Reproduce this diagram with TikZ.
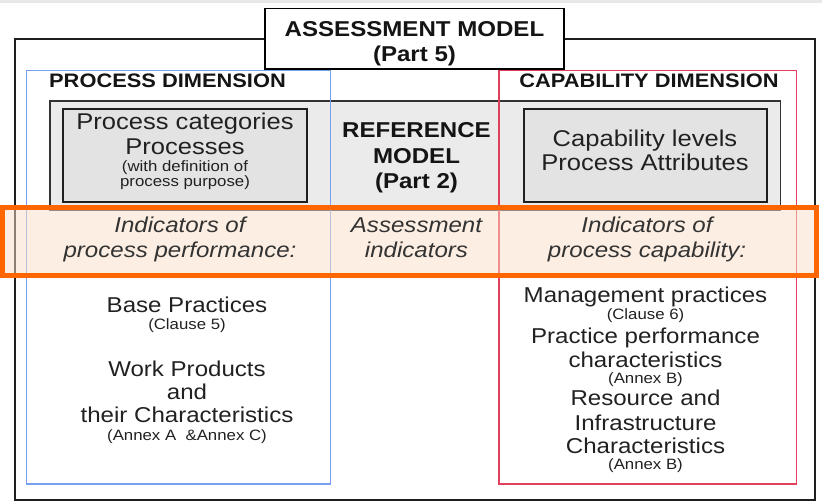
\documentclass[tikz,border=0pt]{standalone}
\usepackage{fontspec}
\setmainfont{Liberation Sans}[FakeStretch=1.12]
\begin{document}
\begin{tikzpicture}[x=1bp,y=-1bp,
  txtbig/.style={font=\fontsize{21.5bp}{25bp}\selectfont, text=black!87, anchor=base, inner sep=0pt},
  txtcat/.style={font=\fontsize{22.8bp}{25bp}\selectfont, text=black!87, anchor=base, inner sep=0pt},
  txtsmall/.style={font=\fontsize{15bp}{16bp}\selectfont, text=black!87, anchor=base, inner sep=0pt},
  txthead/.style={font=\fontsize{19.5bp}{22bp}\selectfont\bfseries, text=black!92, anchor=base, inner sep=0pt},
  txtbold/.style={font=\fontsize{21.5bp}{25bp}\selectfont\bfseries, text=black!92, anchor=base, inner sep=0pt},
  txtital/.style={font=\fontsize{21.5bp}{25bp}\selectfont\itshape, text=black!80, anchor=base, inner sep=0pt},
  framebox/.style={draw=black!88, line width=2bp},
  refbox/.style={draw=black!80, line width=1.5bp, fill=black!8},
  catbox/.style={draw=black!88, line width=2bp, fill=black!11},
  dimblue/.style={draw={rgb,255:red,120;green,160;blue,240}, line width=1.5bp},
  dimred/.style={draw={rgb,255:red,224;green,64;blue,92}, line width=1.5bp},
  titlebox/.style={draw=black, line width=1.5bp, fill=white},
  indband/.style={draw={rgb,255:red,255;green,102;blue,0}, line width=5bp,
    fill={rgb,255:red,250;green,222;blue,198}, fill opacity=0.5}
]
% canvas
\useasboundingbox (0,0) rectangle (822,503);
\fill[black!9] (0,0) rectangle (822,3);

% assessment model frame
\draw[framebox] (15,39.5) rectangle (815,500);

% reference model and its two category boxes
\draw[refbox] (50,101) rectangle (780.5,210.5);
\draw[catbox] (63,109.5) rectangle (306.5,202.5);
\draw[catbox] (523.5,109.5) rectangle (766.5,202.5);

% process and capability dimensions
\draw[dimblue] (26.7,70.5) rectangle (330.7,484);
\draw[dimred] (499,70.5) rectangle (796.7,484);

% title
\draw[titlebox] (265,8.5) rectangle (564,69);
\node[txtbold] (t1) at (414.5,37) {ASSESSMENT MODEL};
\node[txtbold] (t2) at (414.5,62) {(Part 5)};

% indicator band
\draw[indband] (2.5,207.5) rectangle (816,275.5);

% dimension headings
\node[txthead] (pdim) at (167.5,87.5) {PROCESS DIMENSION};
\node[txthead] (cdim) at (649,88) {CAPABILITY DIMENSION};

% reference model label
\node[txtbold] (r1) at (416.5,138) {REFERENCE};
\node[txtbold] (r2) at (416.5,164) {MODEL};
\node[txtbold] (r3) at (416.5,189) {(Part 2)};

% process categories
\node[txtcat] (pc1) at (185,130) {Process categories};
\node[txtcat] (pc2) at (185,155) {Processes};
\node[txtsmall] (pc3) at (185,172) {(with definition of};
\node[txtsmall] (pc4) at (185,187) {process purpose)};

% capability levels
\node[txtcat] (cl1) at (645,147) {Capability levels};
\node[txtcat] (cl2) at (645,170.5) {Process Attributes};

% indicators
\node[txtital] (ip1) at (180,233) {Indicators of};
\node[txtital] (ip2) at (180,258) {process performance:};
\node[txtital] (ai1) at (416.5,233) {Assessment};
\node[txtital] (ai2) at (416.5,258) {indicators};
\node[txtital] (ic1) at (647,233) {Indicators of};
\node[txtital] (ic2) at (647,258) {process capability:};

% process performance indicators
\node[txtbig] (bp1) at (187,313) {Base Practices};
\node[txtsmall] (bp2) at (187,329.5) {(Clause 5)};
\node[txtbig] (wp1) at (187,376) {Work Products};
\node[txtbig] (wp2) at (187,399) {and};
\node[txtbig] (wp3) at (187,422) {their Characteristics};
\node[txtsmall] (wp4) at (187,440) {(Annex A\ \ \&Annex C)};

% process capability indicators
\node[txtbig] (mp1) at (645.5,303) {Management practices};
\node[txtsmall] (mp2) at (645.5,320) {(Clause 6)};
\node[txtbig] (pp1) at (645.5,343) {Practice performance};
\node[txtbig] (pp2) at (645.5,367) {characteristics};
\node[txtsmall] (pp3) at (645.5,383.5) {(Annex B)};
\node[txtbig] (ri1) at (645.5,405) {Resource and};
\node[txtbig] (ri2) at (645.5,430) {Infrastructure};
\node[txtbig] (ri3) at (645.5,453) {Characteristics};
\node[txtsmall] (ri4) at (645.5,469.5) {(Annex B)};
\end{tikzpicture}
\end{document}
